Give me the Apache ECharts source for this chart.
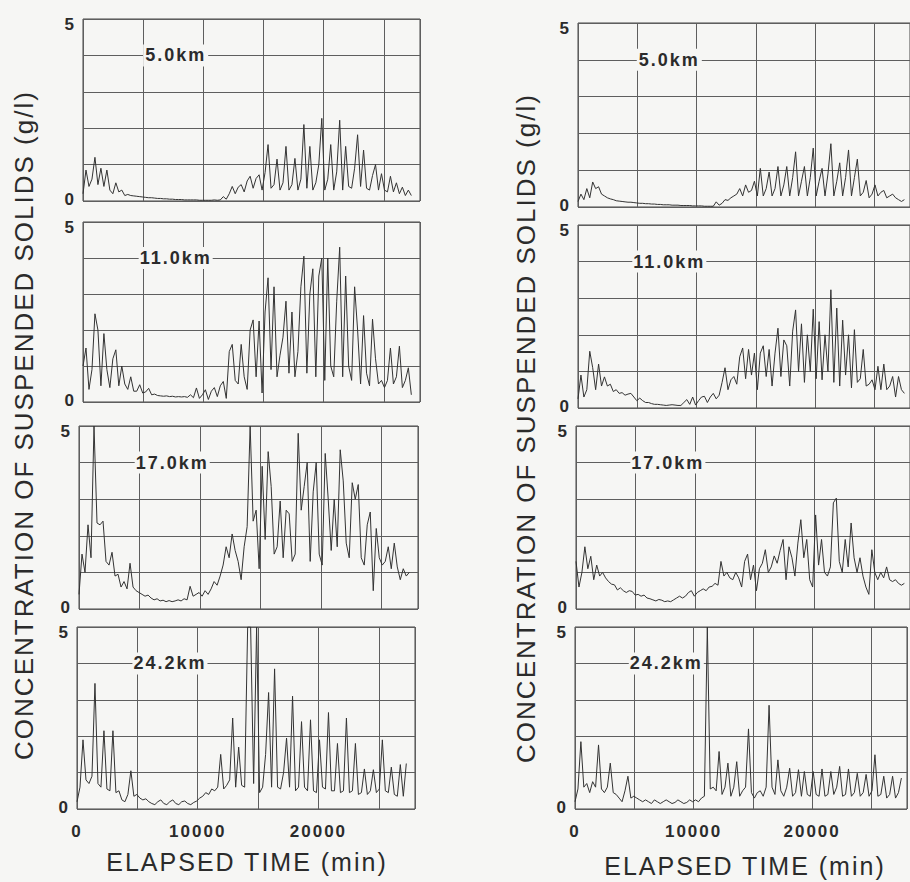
<!DOCTYPE html>
<html>
<head>
<meta charset="utf-8">
<title>Suspended solids</title>
<script src="https://cdn.jsdelivr.net/npm/echarts@6/dist/echarts.min.js"></script>
<style>
    html, body { margin: 0; padding: 0; background: #f6f6f4; }
    #chart { width: 910px; height: 882px; }
    #chart text { letter-spacing: 2px; }
</style>
</head>
<body>
<div id="chart"></div>
<script>
// records were digitised every 248 min (about a third of a tidal period)
var STEP = 248;
var stations = ['5.0km', '11.0km', '17.0km', '24.2km'];
var xTickLabels = [0, 10000, 20000];
var yTickLabels = [0, 5];

// left column
var left5 = [0.2, 0.85, 0.4, 0.6, 1.2, 0.45, 0.9, 0.4, 0.85, 0.3, 0.2,
    0.5, 0.25, 0.3, 0.15, 0.18, 0.15, 0.14, 0.13, 0.12, 0.11,
    0.1, 0.09, 0.09, 0.08, 0.07, 0.07, 0.06, 0.06, 0.05, 0.05,
    0.04, 0.04, 0.04, 0.03, 0.03, 0.03, 0.03, 0.03, 0.02, 0.02,
    0.02, 0.02, 0.02, 0.03, 0.02, 0.03, 0.12, 0.05, 0.2, 0.4,
    0.2, 0.38, 0.45, 0.25, 0.55, 0.68, 0.35, 0.62, 0.72, 0.3,
    0.78, 1.55, 0.35, 0.45, 1.15, 0.3, 0.5, 1.5, 0.3, 0.45,
    1.17, 0.3, 0.6, 2.1, 0.35, 1.5, 0.3, 0.5, 1.0, 2.27,
    0.3, 0.6, 1.55, 0.3, 0.8, 2.22, 0.3, 1.5, 0.4, 0.35,
    0.9, 1.82, 0.4, 1.4, 0.35, 0.3, 0.7, 1.0, 0.3, 0.75,
    0.3, 0.25, 0.68, 0.25, 0.5, 0.2, 0.38, 0.15, 0.3, 0.15];
var left11 = [1.0, 1.5, 0.35, 0.9, 2.45, 2.0, 0.45, 1.9, 0.9, 0.4, 1.2,
    1.45, 0.45, 1.0, 0.5, 0.35, 0.7, 0.3, 0.3, 0.48, 0.25,
    0.28, 0.38, 0.2, 0.22, 0.18, 0.17, 0.16, 0.17, 0.15, 0.16,
    0.14, 0.15, 0.14, 0.15, 0.13, 0.2, 0.12, 0.39, 0.1, 0.2,
    0.34, 0.07, 0.3, 0.4, 0.15, 0.45, 0.57, 0.1, 1.4, 1.6,
    0.6, 0.5, 1.6, 0.7, 0.35, 2.0, 2.28, 0.7, 2.25, 0.25,
    2.5, 3.45, 0.9, 3.2, 0.7, 1.3, 1.8, 2.8, 0.8, 2.5,
    0.7, 1.4, 3.2, 4.05, 0.8, 3.0, 3.7, 0.7, 3.5, 4.0,
    0.6, 4.0, 1.0, 0.7, 2.8, 4.3, 0.7, 3.5, 1.0, 0.6,
    3.2, 2.0, 0.5, 2.4, 0.8, 0.45, 2.3, 1.2, 0.5, 0.6,
    0.4, 0.6, 1.5, 0.5, 0.7, 1.55, 0.4, 0.6, 0.95, 0.2];
var left17 = [0.4, 1.5, 1.0, 2.3, 1.4, 5.0, 2.35, 2.3, 2.4, 1.3, 1.2,
    1.55, 0.9, 0.95, 0.6, 0.75, 0.55, 1.25, 0.6, 0.5, 0.45,
    0.4, 0.35, 0.38, 0.3, 0.25, 0.28, 0.22, 0.24, 0.2, 0.23,
    0.2, 0.22, 0.25, 0.22, 0.28, 0.25, 0.62, 0.35, 0.4, 0.45,
    0.35, 0.5, 0.4, 0.55, 0.75, 0.65, 0.9, 1.2, 1.7, 1.4,
    2.05, 1.6, 1.3, 0.8, 1.7, 2.25, 5.0, 2.4, 2.7, 1.1,
    3.9, 1.9, 4.3, 3.35, 1.5, 1.7, 2.95, 1.4, 2.7, 2.6,
    1.3, 1.5, 4.8, 2.7, 3.35, 4.0, 1.3, 3.2, 4.0, 1.5,
    1.2, 4.25, 3.0, 1.6, 3.0, 1.7, 4.35, 3.5, 1.8, 1.4,
    3.45, 3.0, 3.4, 1.4, 1.2, 2.3, 2.65, 0.5, 2.2, 1.4,
    1.2, 1.3, 1.7, 1.1, 1.8, 1.15, 0.8, 1.1, 0.9, 1.0];
var left24 = [0.2, 0.6, 1.9, 0.8, 0.7, 0.9, 3.45, 0.7, 0.6, 2.15, 0.55,
    0.5, 2.15, 0.45, 0.5, 0.25, 0.2, 0.4, 1.05, 0.35, 0.4,
    0.3, 0.25, 0.28, 0.2, 0.15, 0.12, 0.2, 0.25, 0.15, 0.12,
    0.2, 0.25, 0.15, 0.12, 0.2, 0.22, 0.15, 0.12, 0.18, 0.22,
    0.3, 0.35, 0.45, 0.4, 0.55, 0.5, 0.6, 1.5, 0.55, 0.65,
    0.8, 2.5, 0.6, 1.7, 0.65, 0.6, 5.0, 5.0, 0.7, 5.0,
    0.45, 0.6, 1.5, 3.2, 0.6, 3.85, 0.6, 0.55, 1.0, 1.95,
    0.6, 3.1, 0.5, 0.6, 2.4, 0.6, 0.5, 2.45, 0.5, 0.45,
    1.9, 0.6, 0.55, 2.65, 0.5, 0.5, 1.8, 0.45, 0.5, 2.5,
    0.45, 0.5, 1.8, 0.4, 0.45, 1.1, 0.4, 0.5, 1.08, 0.45,
    0.55, 1.9, 0.5, 0.45, 1.15, 0.4, 0.35, 1.22, 0.35, 1.25];

// right column
var right5 = [0.15, 0.35, 0.2, 0.5, 0.25, 0.68, 0.5, 0.55, 0.35, 0.3, 0.25,
    0.22, 0.2, 0.17, 0.16, 0.15, 0.14, 0.13, 0.13, 0.12, 0.11, 0.1,
    0.1, 0.09, 0.09, 0.08, 0.08, 0.07, 0.07, 0.06, 0.06, 0.06, 0.05, 0.05,
    0.05, 0.04, 0.04, 0.04, 0.04, 0.03, 0.03, 0.03, 0.03, 0.02, 0.02, 0.02,
    0.02, 0.14, 0.05, 0.1, 0.2, 0.18, 0.25, 0.3, 0.35, 0.5,
    0.3, 0.6, 0.4, 0.45, 0.7, 0.3, 1.05, 0.3, 0.5, 0.95,
    0.3, 0.5, 1.1, 0.3, 0.6, 1.1, 0.3, 0.8, 1.5, 0.3,
    0.7, 1.1, 0.3, 0.8, 1.6, 0.3, 0.7, 1.05, 0.3, 0.9,
    1.72, 0.3, 0.7, 1.2, 0.3, 0.8, 1.55, 0.3, 0.8, 1.3,
    0.3, 0.4, 0.72, 0.25, 0.35, 0.6, 0.3, 0.4, 0.45, 0.25,
    0.3, 0.35, 0.25, 0.2, 0.15, 0.2];
var right11 = [0.25, 0.9, 0.3, 0.5, 1.55, 1.1, 0.5, 1.2, 0.6, 0.85, 0.6,
    0.65, 0.45, 0.5, 0.4, 0.42, 0.35, 0.38, 0.4, 0.3, 0.2,
    0.27, 0.2, 0.15, 0.15, 0.12, 0.1, 0.1, 0.09, 0.08, 0.07,
    0.08, 0.09, 0.08, 0.07, 0.07, 0.15, 0.23, 0.1, 0.3, 0.08,
    0.2, 0.3, 0.32, 0.15, 0.3, 0.4, 0.25, 0.35, 0.7, 1.1,
    0.5, 0.77, 0.86, 0.65, 1.4, 1.64, 0.8, 1.6, 0.9, 1.5,
    0.5, 1.5, 1.7, 0.86, 1.6, 0.6, 1.5, 2.18, 0.86, 1.86,
    1.7, 0.6, 2.1, 2.68, 1.0, 2.3, 0.7, 2.0, 1.0, 2.7,
    0.8, 2.36, 0.77, 2.0, 1.0, 3.23, 0.7, 2.73, 0.6, 2.4,
    0.9, 2.0, 0.55, 2.14, 0.7, 0.8, 1.6, 0.6, 0.65, 0.77,
    0.5, 1.14, 0.5, 1.2, 0.5, 0.6, 0.86, 0.3, 0.86, 0.5, 0.4];
var right17 = [1.3, 0.6, 1.0, 1.7, 1.1, 1.44, 0.8, 1.2, 0.9, 1.0, 0.85,
    0.75, 0.68, 0.66, 0.52, 0.58, 0.5, 0.45, 0.5, 0.48, 0.38,
    0.4, 0.35, 0.38, 0.3, 0.28, 0.25, 0.22, 0.26, 0.24, 0.2,
    0.22, 0.2, 0.25, 0.3, 0.35, 0.3, 0.35, 0.45, 0.5, 0.35,
    0.45, 0.5, 0.55, 0.5, 0.6, 0.62, 0.7, 0.65, 1.3, 0.9,
    1.0, 0.85, 0.8, 1.0, 0.85, 0.6, 1.3, 1.5, 0.8, 1.2,
    0.5, 1.1, 1.25, 1.62, 1.0, 1.15, 1.45, 1.25, 1.6, 1.9,
    0.8, 1.7, 1.4, 0.9, 1.8, 2.44, 1.4, 1.9, 0.8, 0.6,
    2.57, 1.2, 1.9, 1.0, 0.9, 1.15, 2.9, 3.03, 1.3, 1.0,
    1.9, 1.15, 2.35, 1.4, 1.0, 1.4, 0.9, 0.6, 0.4, 1.62,
    1.0, 0.8, 1.0, 0.85, 1.15, 0.8, 0.75, 0.8, 0.7, 0.65, 0.7];
var right24 = [0.2, 0.55, 1.85, 0.6, 0.7, 0.45, 0.75, 0.6, 1.76, 0.55, 0.45,
    0.6, 1.26, 0.45, 0.4, 0.3, 0.2, 0.5, 0.9, 0.3, 0.35,
    0.3, 0.25, 0.2, 0.25, 0.2, 0.15, 0.25, 0.2, 0.15, 0.2,
    0.25, 0.2, 0.15, 0.18, 0.25, 0.2, 0.15, 0.18, 0.25, 0.2,
    0.25, 0.2, 0.3, 0.35, 5.0, 0.55, 0.6, 0.5, 1.58, 0.4,
    0.6, 1.26, 0.35, 0.6, 1.3, 0.35, 0.5, 0.6, 2.2, 0.45,
    0.3, 0.45, 0.5, 0.35, 0.6, 2.85, 0.6, 0.4, 1.35, 0.5,
    0.35, 0.6, 1.12, 0.35, 0.45, 1.08, 0.35, 1.03, 0.4, 0.35,
    1.03, 0.4, 0.35, 1.1, 0.35, 0.4, 1.03, 0.4, 0.6, 1.17,
    0.35, 0.4, 1.1, 0.35, 0.45, 0.98, 0.35, 0.45, 0.95, 0.35,
    0.5, 1.49, 0.35, 0.4, 0.9, 0.3, 0.4, 0.9, 0.3, 0.45, 0.85];

var panels = [left5, left11, left17, left24, right5, right11, right17, right24];

// plot boxes (right column runs past the page edge)
var boxes = [
    { left: 83, top: 19, width: 337, height: 182 },
    { left: 83, top: 222, width: 337, height: 180 },
    { left: 79, top: 426, width: 339, height: 183 },
    { left: 77, top: 627, width: 338, height: 182 },
    { left: 578, top: 23, width: 335, height: 184 },
    { left: 578, top: 225, width: 335, height: 183 },
    { left: 576, top: 426, width: 335, height: 183 },
    { left: 575, top: 627, width: 335, height: 182 }
];

var FONT = '"Liberation Sans", Arial, sans-serif';
var INK = '#2b2b2b';
var BG = '#f6f6f4';
var GRID_LINE = '#5e5e5e';
var LABEL_T = 7700;

var grids = [], xAxes = [], yAxes = [], series = [];

boxes.forEach(function(b, k) {
    var isBottom = k % 4 === 3;
    grids.push({
        left: b.left, top: b.top, width: b.width, height: b.height,
        show: true, borderColor: '#474747', borderWidth: 1,
        backgroundColor: 'transparent'
    });
    xAxes.push({
        type: 'value', gridIndex: k, min: 0, max: 28000, interval: 5000,
        axisLine: { show: false },
        axisTick: { show: false },
        splitLine: { show: true, lineStyle: { color: GRID_LINE, width: 1 } },
        axisLabel: {
            show: isBottom, margin: 14, fontSize: 17, fontWeight: 'bold', color: INK, fontFamily: FONT,
            formatter: function(v) {
                return xTickLabels.indexOf(v) >= 0 ? String(v) : '';
            }
        }
    });
    yAxes.push({
        type: 'value', gridIndex: k, min: 0, max: 5, interval: 1,
        axisLine: { show: false },
        axisTick: { show: false },
        splitLine: { show: true, lineStyle: { color: GRID_LINE, width: 1 } },
        axisLabel: {
            margin: 7, fontSize: 17, color: INK, fontFamily: FONT,
            formatter: function(v) {
                if (yTickLabels.indexOf(v) < 0) return '';
                return v === 5 ? '{t|5}' : '{b|0}';
            },
            rich: {
                t: { fontSize: 17, fontWeight: 'bold', color: INK, fontFamily: FONT, padding: [11, 0, 0, 0] },
                b: { fontSize: 17, fontWeight: 'bold', color: INK, fontFamily: FONT, padding: [0, 0, 3, 0] }
            }
        }
    });
    series.push({
        type: 'line', xAxisIndex: k, yAxisIndex: k,
        data: panels[k].map(function(v, i) { return [i * STEP, v]; }),
        showSymbol: false,
        lineStyle: { color: '#333', width: 1 },
        markPoint: {
            symbol: 'rect', symbolSize: 0, silent: true,
            data: [{ coord: [LABEL_T, 4] }],
            label: {
                show: true, position: 'inside',
                formatter: stations[k % 4],
                fontSize: 18, fontWeight: 'bold', color: INK, fontFamily: FONT,
                backgroundColor: BG, padding: [2, 7]
            }
        }
    });
});

var yTitle = 'CONCENTRATION OF SUSPENDED SOLIDS (g/l)';
var xTitle = 'ELAPSED TIME (min)';

var option = {
    backgroundColor: BG,
    animation: false,
    grid: grids,
    xAxis: xAxes,
    yAxis: yAxes,
    series: series,
    graphic: [
        { type: 'text', x: 24, y: 425, rotation: Math.PI / 2,
          style: { text: yTitle, fontSize: 26, fontFamily: FONT, fill: INK, textAlign: 'center', textVerticalAlign: 'middle' } },
        { type: 'text', x: 526, y: 428, rotation: Math.PI / 2,
          style: { text: yTitle, fontSize: 26, fontFamily: FONT, fill: INK, textAlign: 'center', textVerticalAlign: 'middle' } },
        { type: 'text', x: 247, y: 862,
          style: { text: xTitle, fontSize: 25, fontFamily: FONT, fill: INK, textAlign: 'center', textVerticalAlign: 'middle' } },
        { type: 'text', x: 745, y: 866,
          style: { text: xTitle, fontSize: 25, fontFamily: FONT, fill: INK, textAlign: 'center', textVerticalAlign: 'middle' } }
    ]
};

var chart = echarts.init(document.getElementById('chart'), null, { renderer: 'svg' });
chart.setOption(option);
</script>
</body>
</html>
